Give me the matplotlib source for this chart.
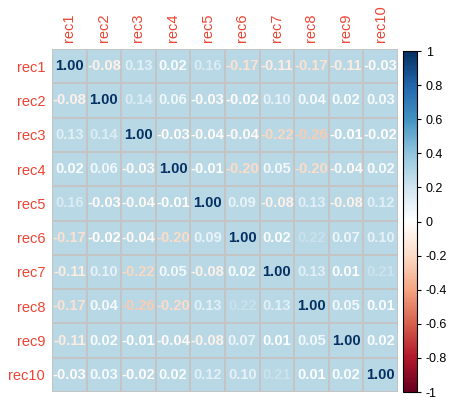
import numpy as np
import matplotlib
matplotlib.use("Agg")
import matplotlib.pyplot as plt
from matplotlib.colors import LinearSegmentedColormap, Normalize, ListedColormap
from matplotlib.cm import ScalarMappable

labels = ["rec1", "rec2", "rec3", "rec4", "rec5",
          "rec6", "rec7", "rec8", "rec9", "rec10"]

corr = np.array([
    [1.00, -0.08, 0.13, 0.02, 0.16, -0.17, -0.11, -0.17, -0.11, -0.03],
    [-0.08, 1.00, 0.14, 0.06, -0.03, -0.02, 0.10, 0.04, 0.02, 0.03],
    [0.13, 0.14, 1.00, -0.03, -0.04, -0.04, -0.22, -0.26, -0.01, -0.02],
    [0.02, 0.06, -0.03, 1.00, -0.01, -0.20, 0.05, -0.20, -0.04, 0.02],
    [0.16, -0.03, -0.04, -0.01, 1.00, 0.09, -0.08, 0.13, -0.08, 0.12],
    [-0.17, -0.02, -0.04, -0.20, 0.09, 1.00, 0.02, 0.22, 0.07, 0.10],
    [-0.11, 0.10, -0.22, 0.05, -0.08, 0.02, 1.00, 0.13, 0.01, 0.21],
    [-0.17, 0.04, -0.26, -0.20, 0.13, 0.22, 0.13, 1.00, 0.05, 0.01],
    [-0.11, 0.02, -0.01, -0.04, -0.08, 0.07, 0.01, 0.05, 1.00, 0.02],
    [-0.03, 0.03, -0.02, 0.02, 0.12, 0.10, 0.21, 0.01, 0.02, 1.00],
])

cbar_ticks = [-1, -0.8, -0.6, -0.4, -0.2, 0, 0.2, 0.4, 0.6, 0.8, 1]

# corrplot's RdBu ramp (white in the middle)
rdbu = LinearSegmentedColormap.from_list("rdbu", [
    "#67001F", "#B2182B", "#D6604D", "#F4A582", "#FDDBC7", "#FFFFFF",
    "#D1E5F0", "#92C5DE", "#4393C3", "#2166AC", "#053061"], N=200)
norm = Normalize(-1, 1)

plt.rcParams["font.family"] = ["Liberation Sans", "DejaVu Sans"]

fig = plt.figure(figsize=(4.6, 4.04), dpi=100)
ax = fig.add_axes([0.113, 0.0297, 0.752, 0.849])

n = len(labels)
bg = np.zeros((n, n))
ax.pcolormesh(np.arange(n + 1), np.arange(n + 1), bg,
              cmap=ListedColormap(["#B7D8E4"]), edgecolors="#C4C4C4",
              linewidth=1.1)
ax.set_xlim(0, n)
ax.set_ylim(n, 0)

for i in range(n):
    for j in range(n):
        v = corr[i, j]
        ax.text(j + 0.5, i + 0.5, "{:.2f}".format(v), ha="center",
                va="center", fontsize=10.5, fontweight="bold",
                color=rdbu(norm(v)))

ax.set_xticks(np.arange(n) + 0.5)
ax.set_yticks(np.arange(n) + 0.5)
ax.set_xticklabels(labels, rotation=90, color="#EE4433", fontsize=10.5)
ax.set_yticklabels(labels, color="#EE4433", fontsize=10.5)
ax.xaxis.tick_top()
ax.tick_params(length=0, pad=5)
for s in ax.spines.values():
    s.set_visible(False)

cax = fig.add_axes([0.876, 0.0297, 0.030, 0.844])
sm = ScalarMappable(norm=norm, cmap=rdbu)
cb = fig.colorbar(sm, cax=cax, ticks=cbar_ticks)
cb.ax.set_yticklabels(["{:g}".format(t) for t in cbar_ticks], fontsize=9)
cb.ax.tick_params(length=3, width=0.8)
cb.outline.set_linewidth(0.8)

fig.savefig("out.png", dpi=100)
